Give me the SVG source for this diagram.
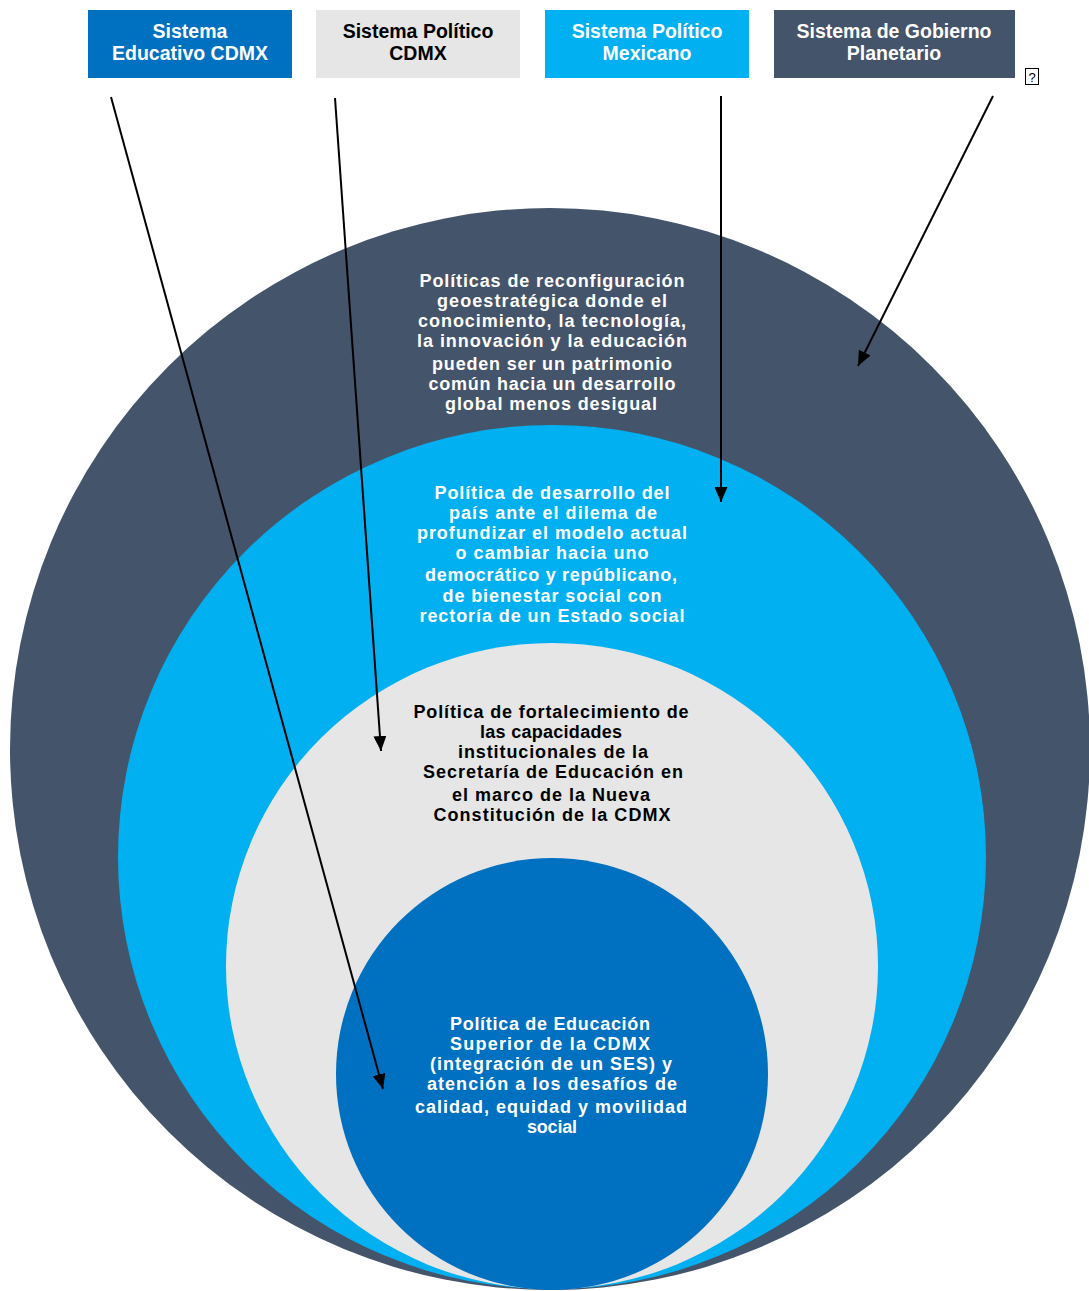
<svg xmlns="http://www.w3.org/2000/svg" width="1089" height="1291" viewBox="0 0 1089 1291">
<defs>
<style>
.t{font-family:"Liberation Sans",Arial,sans-serif;font-weight:bold;text-anchor:middle}
.h{font-size:19.5px}
.c{font-size:18px}
.w{fill:#FFFFFF}
.k{fill:#000000}
.ln{stroke:#000;stroke-width:2;fill:none}
</style>
<marker id="ah" viewBox="0 0 10 10" refX="10" refY="5" markerWidth="7.5" markerHeight="6.5" markerUnits="strokeWidth" orient="auto" preserveAspectRatio="none">
<path d="M0,0 L10,5 L0,10 z" fill="#000"/>
</marker>
</defs>
<rect width="1089" height="1291" fill="#FFFFFF"/>
<g id="circle-outer">
<ellipse cx="550" cy="749" rx="540" ry="541" fill="#44546A"/>
<text class="t c w" lengthAdjust="spacing"><tspan x="552" y="287" textLength="265" lengthAdjust="spacing">Políticas de reconfiguración</tspan><tspan x="552" y="307" textLength="230" lengthAdjust="spacing">geoestratégica donde el</tspan><tspan x="552" y="327" textLength="268" lengthAdjust="spacing">conocimiento, la tecnología,</tspan><tspan x="552" y="347" textLength="270" lengthAdjust="spacing">la innovación y la educación</tspan><tspan x="552" y="370" textLength="240" lengthAdjust="spacing">pueden ser un patrimonio</tspan><tspan x="552" y="390" textLength="247" lengthAdjust="spacing">común hacia un desarrollo</tspan><tspan x="551" y="410" textLength="212" lengthAdjust="spacing">global menos desigual</tspan></text>
</g>
<g id="circle-mexicano">
<ellipse cx="552" cy="857" rx="434" ry="432" fill="#00B0F0"/>
<text class="t c w"><tspan x="552" y="499" textLength="235" lengthAdjust="spacing">Política de desarrollo del</tspan><tspan x="553" y="519" textLength="208" lengthAdjust="spacing">país ante el dilema de</tspan><tspan x="552" y="539" textLength="270" lengthAdjust="spacing">profundizar el modelo actual</tspan><tspan x="552" y="559" textLength="193" lengthAdjust="spacing">o cambiar hacia uno</tspan><tspan x="551" y="581" textLength="252" lengthAdjust="spacing">democrático y repúblicano,</tspan><tspan x="552" y="602" textLength="219" lengthAdjust="spacing">de bienestar social con</tspan><tspan x="552" y="622" textLength="265" lengthAdjust="spacing">rectoría de un Estado social</tspan></text>
</g>
<g id="circle-cdmx">
<ellipse cx="552" cy="966" rx="326" ry="323" fill="#E6E6E6"/>
<text class="t c k"><tspan x="551" y="718" textLength="275" lengthAdjust="spacing">Política de fortalecimiento de</tspan><tspan x="551" y="738" textLength="142" lengthAdjust="spacing">las capacidades</tspan><tspan x="553" y="758" textLength="190" lengthAdjust="spacing">institucionales de la</tspan><tspan x="553" y="778" textLength="260" lengthAdjust="spacing">Secretaría de Educación en</tspan><tspan x="551" y="801" textLength="198" lengthAdjust="spacing">el marco de la Nueva</tspan><tspan x="552" y="821" textLength="237" lengthAdjust="spacing">Constitución de la CDMX</tspan></text>
</g>
<g id="circle-educativo">
<ellipse cx="552" cy="1074" rx="216" ry="216" fill="#0070C0"/>
<text class="t c w"><tspan x="550" y="1030" textLength="200" lengthAdjust="spacing">Política de Educación</tspan><tspan x="550" y="1050" textLength="200" lengthAdjust="spacing">Superior de la CDMX</tspan><tspan x="551" y="1070" textLength="242" lengthAdjust="spacing">(integración de un SES) y</tspan><tspan x="552" y="1090" textLength="250" lengthAdjust="spacing">atención a los desafíos de</tspan><tspan x="551" y="1113" textLength="272" lengthAdjust="spacing">calidad, equidad y movilidad</tspan><tspan x="552" y="1133" textLength="50" lengthAdjust="spacing">social</tspan></text>
</g>
<g id="box-educativo">
<rect x="88" y="10" width="204" height="68" fill="#0070C0"/>
<text class="t h w"><tspan x="190" y="38">Sistema</tspan><tspan x="190" y="60">Educativo CDMX</tspan></text>
</g>
<g id="box-politico-cdmx">
<rect x="316" y="10" width="204" height="68" fill="#E6E6E6"/>
<text class="t h k"><tspan x="418" y="38">Sistema Político</tspan><tspan x="418" y="60">CDMX</tspan></text>
</g>
<g id="box-politico-mexicano">
<rect x="545" y="10" width="204" height="68" fill="#00B0F0"/>
<text class="t h w"><tspan x="647" y="38">Sistema Político</tspan><tspan x="647" y="60">Mexicano</tspan></text>
</g>
<g id="box-planetario">
<rect x="774" y="10" width="241" height="68" fill="#44546A"/>
<text class="t h w"><tspan x="894" y="38">Sistema de Gobierno</tspan><tspan x="894" y="60">Planetario</tspan></text>
</g>
<g id="missing-glyph">
<rect x="1025.5" y="68.5" width="13" height="16" fill="none" stroke="#000" stroke-width="1"/>
<text x="1032" y="82" font-family="Liberation Sans,Arial,sans-serif" font-size="13" text-anchor="middle" fill="#000">?</text>
</g>
<g id="connectors">
<line class="ln" x1="111" y1="97" x2="383" y2="1089" marker-end="url(#ah)"/>
<line class="ln" x1="335" y1="98" x2="381" y2="751" marker-end="url(#ah)"/>
<line class="ln" x1="721" y1="96" x2="721" y2="502" marker-end="url(#ah)"/>
<line class="ln" x1="993" y1="96" x2="858" y2="366" marker-end="url(#ah)"/>
</g>
</svg>
